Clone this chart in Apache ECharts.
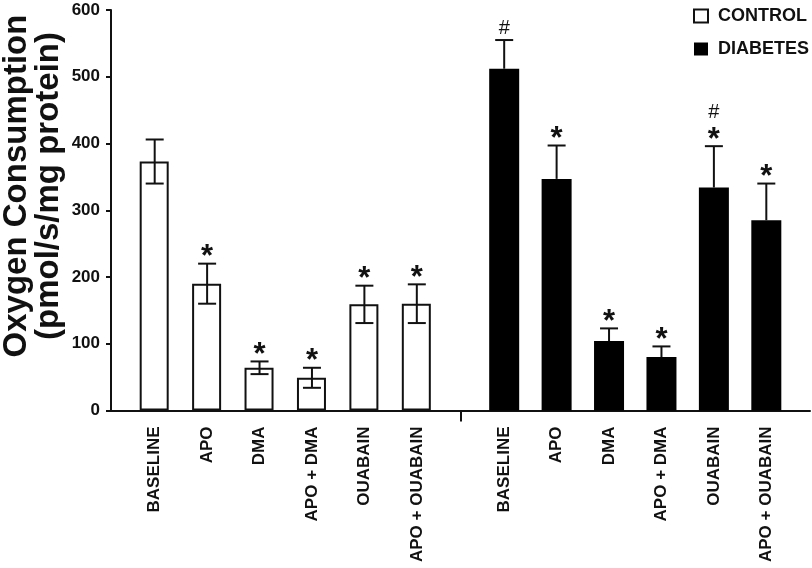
<!DOCTYPE html>
<html>
<head>
<meta charset="utf-8">
<script src="https://cdn.jsdelivr.net/npm/echarts@6/dist/echarts.min.js"></script>
<style>
  html, body { margin: 0; padding: 0; background: #fff; }
  #chart { width: 812px; height: 568px; }
</style>
</head>
<body>
<div id="chart"></div>
<script>
const FONT = "'Liberation Sans', Arial, sans-serif"
const INK = "#111"

// treatments, same order in both groups
const categories = ["BASELINE", "APO", "DMA", "APO + DMA", "OUABAIN", "APO + OUABAIN"]

const controlMean = [373, 190, 64, 49, 159, 160]
const controlSem = [33, 30, 9.5, 15, 28, 29]
const controlMarks = ["", "*", "*", "*", "*", "*"]

const diabetesMean = [512, 347, 104, 80, 334, 285]
const diabetesSem = [43, 50, 19, 16, 62, 55]
const diabetesMarks = ["#", "*", "*", "*", "#*", "*"]

// x layout: each group gets 3 slots per bar, groups split at 20
function slot(group, i) {
  return 2.5 + group * 20 + i * 3
}

const labelAt = {}
categories.forEach((c, i) => {
  labelAt[slot(0, i)] = c
  labelAt[slot(1, i)] = c
})
const labelPositions = Object.keys(labelAt).map(Number)

function barData(group, means) {
  return means.map((v, i) => [slot(group, i), v])
}

// filled bars hide the lower half of the error bar, so only draw it on open bars
function errorSeries(group, means, sems, marks, lower) {
  return {
    type: "custom",
    z: 5,
    silent: true,
    data: means.map((v, i) => [slot(group, i), v, sems[i]]),
    encode: { x: 0, y: 1 },
    renderItem(params, api) {
      const x = api.value(0)
      const m = api.value(1)
      const e = api.value(2)
      const top = api.coord([x, m + e])
      const bot = api.coord([x, lower ? m - e : m])
      const cap = 9
      const line = { stroke: INK, lineWidth: 2 }
      const children = [
        { type: "line", shape: { x1: top[0], y1: top[1], x2: bot[0], y2: bot[1] }, style: line },
        { type: "line", shape: { x1: top[0] - cap, y1: top[1], x2: top[0] + cap, y2: top[1] }, style: line }
      ]
      if (lower) {
        children.push({ type: "line", shape: { x1: bot[0] - cap, y1: bot[1], x2: bot[0] + cap, y2: bot[1] }, style: line })
      }
      const mark = marks[params.dataIndex]
      let y = top[1]
      if (mark.includes("*")) {
        children.push({
          type: "text",
          style: {
            text: "*", x: top[0], y: y - 6, align: "center", verticalAlign: "middle",
            font: "bold 31px " + FONT, fill: INK
          }
        })
        y -= 22
      }
      if (mark.includes("#")) {
        children.push({
          type: "text",
          style: {
            text: "#", x: top[0], y: y - 12, align: "center", verticalAlign: "middle",
            font: "20px " + FONT, fill: INK
          }
        })
      }
      return { type: "group", children }
    }
  }
}

const chart = echarts.init(document.getElementById("chart"))
chart.setOption({
  animation: false,
  grid: { left: 111, right: 2, top: 10, bottom: 157.5 },
  legend: {
    orient: "vertical",
    left: 693,
    top: 7,
    padding: 0,
    itemWidth: 14,
    itemHeight: 13,
    itemGap: 15,
    icon: "rect",
    textStyle: { fontFamily: FONT, fontWeight: "bold", fontSize: 18, color: INK, padding: [0, 0, 0, 5] },
    data: ["CONTROL", "DIABETES"]
  },
  xAxis: {
    type: "value",
    min: 0,
    max: 40,
    splitLine: { show: false },
    axisLine: { lineStyle: { color: INK, width: 2 } },
    axisTick: { show: true, customValues: [20], length: 11, lineStyle: { color: INK, width: 2 } },
    axisLabel: {
      customValues: labelPositions,
      formatter: (v) => labelAt[v] || "",
      rotate: 90,
      margin: 16,
      fontFamily: FONT,
      fontWeight: "bold",
      fontSize: 17,
      color: INK
    }
  },
  yAxis: {
    type: "value",
    min: 0,
    max: 600,
    interval: 100,
    splitLine: { show: false },
    axisLine: { show: true, lineStyle: { color: INK, width: 2 } },
    axisTick: { show: true, length: 5, lineStyle: { color: INK, width: 2 } },
    axisLabel: { margin: 11, fontFamily: FONT, fontWeight: "bold", fontSize: 17, color: INK }
  },
  graphic: [
    {
      type: "text",
      x: 33,
      y: 186,
      rotation: Math.PI / 2,
      style: {
        text: "Oxygen Consumption\n(pmol/s/mg protein)",
        align: "center",
        verticalAlign: "middle",
        lineHeight: 32,
        font: "bold 33px " + FONT,
        fill: INK
      }
    }
  ],
  series: [
    {
      name: "CONTROL",
      type: "bar",
      barWidth: 29,
      barGap: "-100%",
      itemStyle: { color: "#fff", borderColor: INK, borderWidth: 2 },
      data: barData(0, controlMean)
    },
    {
      name: "DIABETES",
      type: "bar",
      barWidth: 30,
      barGap: "-100%",
      itemStyle: { color: "#000" },
      data: barData(1, diabetesMean)
    },
    errorSeries(0, controlMean, controlSem, controlMarks, true),
    errorSeries(1, diabetesMean, diabetesSem, diabetesMarks, false)
  ]
})
</script>
</body>
</html>
